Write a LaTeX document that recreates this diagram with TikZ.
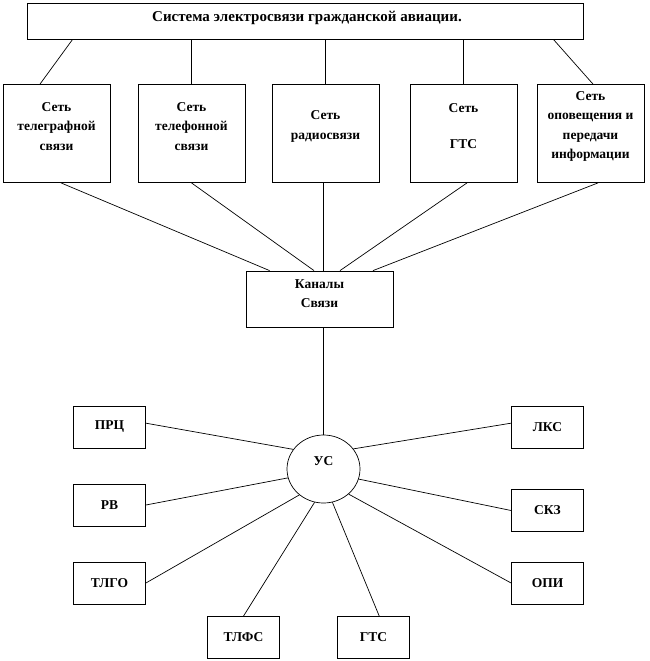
\documentclass[tikz,border=0pt]{standalone}
\usepackage{fontspec}
\setmainfont{Liberation Serif}
\usetikzlibrary{shapes.geometric, calc}
\tikzstyle{netbox} = [draw, line width=0.8pt, minimum width=107, minimum height=98]
\tikzstyle{unitbox} = [draw, line width=0.8pt, minimum width=72, minimum height=42, inner sep=0]
\tikzstyle{txt} = [align=center, inner sep=0]
\tikzstyle{link} = [line width=0.7pt]

\begin{document}
\begin{tikzpicture}[x=1pt, y=-1pt, every node/.style={font=\bfseries\fontsize{13.5}{19.5}\selectfont}]
        \useasboundingbox (0,0) rectangle (649,661);

        \node at (305,21) [draw, line width=0.8pt, minimum width=556, minimum height=36](sys) {};
        \node at (307,17.5) [txt, font=\bfseries\fontsize{15}{18}\selectfont](systxt) {Система электросвязи гражданской авиации.};

        \node at (56.5,133.5) [netbox](net1) {};
        \node at (191.5,133.5) [netbox](net2) {};
        \node at (325.5,133.5) [netbox](net3) {};
        \node at (463.5,133.5) [netbox](net4) {};
        \node at (590.5,133.5) [netbox](net5) {};
        \node at (56.5,126.5) [txt](net1txt) {Сеть\\телеграфной\\связи};
        \node at (191.5,126.5) [txt](net2txt) {Сеть\\телефонной\\связи};
        \node at (325.5,126.5) [txt](net3txt) {Сеть\\радиосвязи};
        \node at (463.5,126.5) [txt](net4txt) {Сеть\\[16.5pt]ГТС};
        \node at (590.5,126.5) [txt](net5txt) {Сеть\\оповещения и\\передачи\\информации};

        \node at (319.5,299) [draw, line width=0.8pt, minimum width=147, minimum height=56](kan) {};
        \node at (319.5,293.5) [txt](kantxt) {Каналы\\Связи};

        \node at (323.5,469) [ellipse, draw, line width=0.7pt, minimum width=73, minimum height=68](us) {};
        \node at (323.5,461) [txt](ustxt) {УС};

        \node at (109.5,427) [unitbox](prc) {ПРЦ};
        \node at (109.5,505) [unitbox](rv) {РВ};
        \node at (109.5,583) [unitbox](tlgo) {ТЛГО};
        \node at (547.5,427) [unitbox](lks) {ЛКС};
        \node at (547.5,510.5) [unitbox](skz) {СКЗ};
        \node at (547.5,583) [unitbox](opi) {ОПИ};
        \node at (243.5,637.5) [unitbox](tlfs) {ТЛФС};
        \node at (373.5,637.5) [unitbox](gts) {ГТС};

        \draw[link] ([xshift=46]sys.south west) -- ([xshift=-16.5]net1.north);
        \draw[link] (net2.north |- sys.south) -- (net2.north);
        \draw[link] (net3.north |- sys.south) -- (net3.north);
        \draw[link] (net4.north |- sys.south) -- (net4.north);
        \draw[link] ([xshift=-30]sys.south east) -- ([xshift=2.5]net5.north);

        \draw[link] ([xshift=4.5]net1.south) -- ([xshift=24]kan.north west);
        \draw[link] (net2.south) -- ([xshift=-5.5]kan.north);
        \draw[link] ([xshift=-2]net3.south) -- ([xshift=4]kan.north);
        \draw[link] ([xshift=3.5]net4.south) -- ([xshift=20.5]kan.north);
        \draw[link] ([xshift=7.5]net5.south) -- ([xshift=53.5]kan.north);

        \draw[link] ([xshift=4]kan.south) -- (us.north);

        \draw[link] (prc.6) -- (us.147);
        \draw[link] (rv.east) -- (us.194);
        \draw[link] (tlgo.east) -- (us.227);
        \draw[link] (tlfs.north) -- (us.255);
        \draw[link] (gts.75) -- (us.285);
        \draw[link] (opi.west) -- (us.315);
        \draw[link] (skz.west) -- (us.344);
        \draw[link] (lks.174) -- (us.34);

    \end{tikzpicture}
\end{document}
